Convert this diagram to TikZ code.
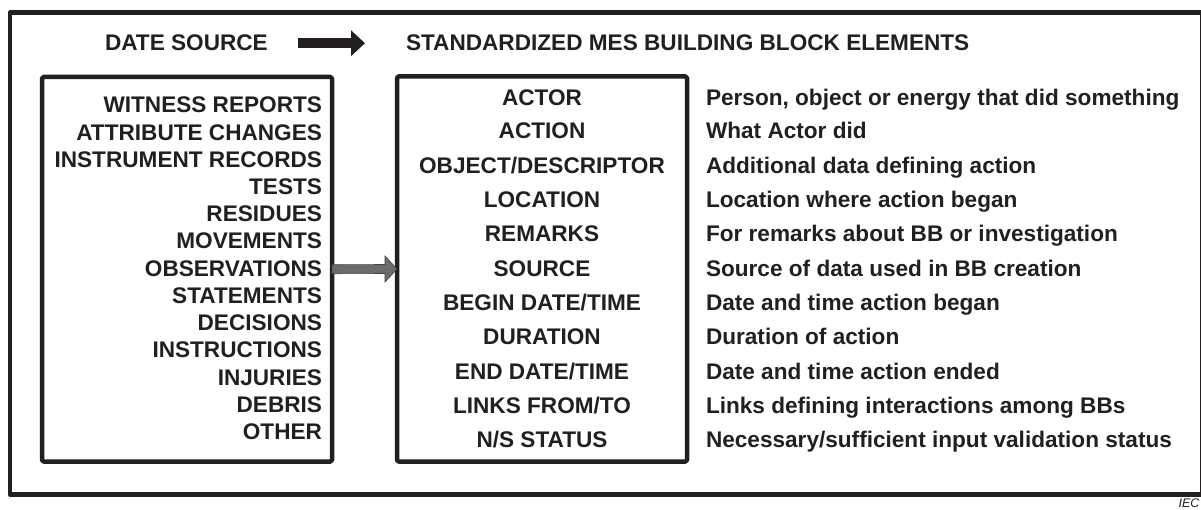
\documentclass[tikz,border=0pt]{standalone}
\usepackage{fontspec}
\setmainfont{Liberation Sans}
\usetikzlibrary{arrows.meta,calc}
\definecolor{ink}{HTML}{231F20}
\definecolor{arrowgray}{HTML}{6B6B6B}
\begin{document}
\begin{tikzpicture}[x=1pt,y=-1pt,
  every node/.style={inner sep=0pt,outer sep=0pt,text=ink,
    font=\fontsize{22.6}{27}\selectfont\bfseries},
  frame/.style={draw=ink,line width=4.5pt,line join=round},
  listbox/.style={draw=ink,line width=4.5pt,line join=round,rounded corners=1.5pt},
  hdr/.style={anchor=base west},
  srcitem/.style={anchor=base east},
  mesitem/.style={anchor=base},
  descitem/.style={anchor=base west},
  bigarrow/.style={draw=ink,line width=9.5pt,
    -{Triangle[width=25pt,length=14pt]}},
  grayarrow/.style={fill=arrowgray,draw=ink!85,line width=0.6pt,line join=miter}]
\useasboundingbox (0,0) rectangle (1201,510);

% outer frame
\draw[frame] (10,12.5) rectangle (1202.5,494.5);

% headings
\node[hdr] (hsrc) at (105,51) {DATE SOURCE};
\node[hdr] (hmes) at (406,51) {STANDARDIZED MES BUILDING BLOCK ELEMENTS};
\draw[bigarrow,shorten <=30pt,shorten >=41pt] (hsrc.east) -- (hmes.west);

% the two boxes
\node[listbox,minimum width=290pt,minimum height=384.5pt] (src) at (187,269.25) {};
\node[listbox,minimum width=290pt,minimum height=385pt] (mes) at (542,269) {};

% data sources
\foreach \t [count=\i from 0] in {WITNESS REPORTS,ATTRIBUTE CHANGES,INSTRUMENT RECORDS,
    TESTS,RESIDUES,MOVEMENTS,OBSERVATIONS,STATEMENTS,DECISIONS,INSTRUCTIONS,
    INJURIES,DEBRIS,OTHER}
  \node[srcitem] (s\i) at (322,{113+27.2*\i}) {\t};

% building block elements and their meanings
\foreach \y/\a/\b [count=\i] in {
    98/ACTOR/{Person, object or energy that did something},
    131/ACTION/{What Actor did},
    165.3/OBJECT\slash DESCRIPTOR/{Additional data defining action},
    199.6/LOCATION/{Location where action began},
    233.9/REMARKS/{For remarks about BB or investigation},
    268.2/SOURCE/{Source of data used in BB creation},
    302.5/BEGIN DATE\slash TIME/{Date and time action began},
    336.8/DURATION/{Duration of action},
    371.1/END DATE\slash TIME/{Date and time action ended},
    405.4/LINKS FROM\slash TO/{Links defining interactions among BBs},
    439.7/N\slash S STATUS/{Necessary\slash sufficient input validation status}}
{
  \node[mesitem] (m\i) at (542,\y+8) {\a};
  \node[descitem] (d\i) at (706,\y+8) {\b};
}

% gray connector from the sources box to the elements box
\filldraw[grayarrow]
  ([yshift=4.5pt]src.east) -- ([xshift=-12pt,yshift=4.5pt]mes.west)
  -- ([xshift=-12pt,yshift=13pt]mes.west) -- (mes.west)
  -- ([xshift=-12pt,yshift=-13pt]mes.west) -- ([xshift=-12pt,yshift=-4.5pt]mes.west)
  -- ([yshift=-4.5pt]src.east) -- cycle;

% source mark
\node[anchor=north east,font=\fontsize{12.5}{15}\selectfont\itshape] (iec) at (1199.5,499) {IEC};
\end{tikzpicture}
\end{document}
